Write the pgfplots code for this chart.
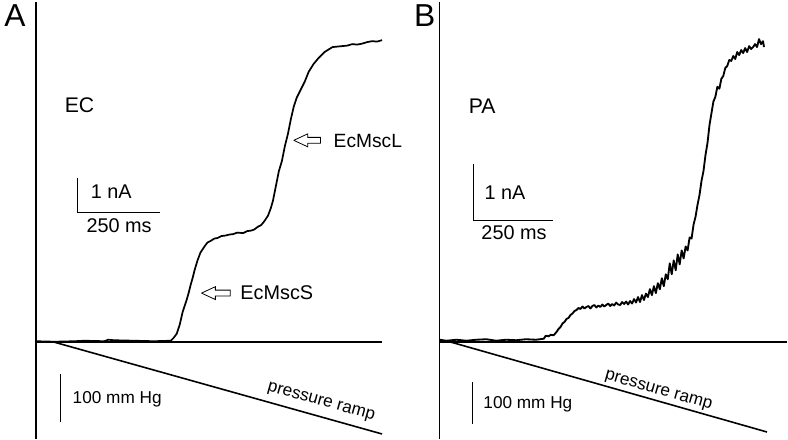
\documentclass[border=0pt]{standalone}
\usepackage{pgfplots}
\pgfplotsset{compat=1.18}
\usepackage{fontspec}
\setmainfont{Liberation Sans}
\newcommand{\fs}[1]{\fontsize{#1}{#1}\selectfont}
\begin{document}
\begin{tikzpicture}
\begin{axis}[
  scale only axis, width=591pt, height=330pt,
  xmin=0, xmax=788, ymin=0, ymax=440, y dir=reverse,
  axis lines=none, clip=false,
]
% frame lines
\addplot[black, line width=1.1pt] coordinates {(31,0) (31,440)};
\addplot[black, line width=1.1pt] coordinates {(438,0) (438,440)};
% baselines
\addplot[black, line width=1.8pt] coordinates {(31,342) (380,342)};
\addplot[black, line width=1.8pt] coordinates {(438,342) (788,342)};
% pressure ramps
\addplot[black, line width=1.2pt] coordinates {(48,342) (380,435)};
\addplot[black, line width=1.2pt] coordinates {(448,342) (768,433)};
% trace A
\addplot[black, line width=1.3pt, line join=round] coordinates {
(31,341.5) (50,342) (70,341.5) (80,341) (100,341.5) (104,340) (110,340.5) (130,341) (150,341.5) (167,341)
(170,338) (173,334) (176,325) (179,312) (181,306) (183,300) (185,293) (187,285) (189,278) (191,270) (194,260) (197,252)
(201,246) (204,242) (207,240.5) (211,238) (214,237.5) (218,235.5) (222,235) (226,234) (230,233.5) (234,232) (240,232.5) (244,230.5) (248,230) (251,229) (255,226) (258,224.5) (261,221)
(265,215) (268,207) (270,200) (273,185) (276,170) (279,160) (282,145) (285,133) (288,118)
(291,105) (294,96) (298,88) (302,80) (306,70) (311,62) (316,56) (322,50) (326,47.5) (330,45) (335,44.5) (340,44)
(345,43.5) (350,42) (355,42.5) (360,41.5) (365,40) (370,39) (375,39.5) (380,38)};
% trace B
\addplot[black, line width=1.4pt, line join=round] coordinates {
(438,340) (445,341) (455,340) (465,341) (475,340) (485,339.5) (495,341) (505,340) (515,340.5)
(525,339.5) (535,340) (543,339) (545,336) (548,336.5) (550,335) (553,335.5) (556,332) (558,329) (560,327) (562,323.5)
(564,322) (566,319) (568,318) (570,315) (572,313.5) (574,311) (576,310) (578,308)
(580,309) (582,306.5) (584,308.5) (586,307) (588,306) (590,308.5) (592,306) (594,305) (596,307.5) (598,305.5)
(600,307) (602,304.5) (604,306.5) (606,305) (608,303.5) (610,306) (612,304) (614,305.5) (616,302.5) (618,304.5)
(620,305) (622,302) (624,304) (626,301.5) (628,304.5) (630,301) (632,303.5) (634,299) (636,302.5) (638,297)
(640,302) (642,295) (644,300) (646,293.5) (648,297) (650,289) (652,295) (654,286) (656,293) (658,283)
(660,289) (662,278) (664,286) (666,274) (668,279) (670,263) (672,274) (674,260) (676,270) (678,254)
(680,264) (682,250) (684,258) (686,246) (688,250) (690,237) (692,238) (694,224) (696,216) (698,204)
(700,194) (702,180) (704,170) (706,154) (708,142) (710,124) (712,112) (714,100) (716,95) (718,85)
(720,87) (722,77) (724,74) (726,66) (728,64) (730,58) (732,59) (734,54) (736,57) (738,50)
(740,53) (742,48) (744,51) (746,46) (748,50) (750,44) (752,47) (754,45) (756,42) (758,45)
(760,37) (762,42) (764,39) (765,45)};
% scale bars A
\addplot[black, line width=1pt] coordinates {(73,177) (73,212) (156,212)};
\addplot[black, line width=1pt] coordinates {(56,375) (56,423)};
% scale bars B
\addplot[black, line width=1pt] coordinates {(472,163) (472,220) (552,220)};
\addplot[black, line width=1pt] coordinates {(471,383) (471,425)};
% arrows
\addplot[black, line width=0.6pt, fill=white] coordinates {
(291,139) (305,132.5) (305,136) (318,136) (318,142) (305,142) (305,145.5) (291,139)};
\addplot[black, line width=0.6pt, fill=white] coordinates {
(198,293) (212,286.5) (212,290) (227,290) (227,296) (212,296) (212,299.5) (198,293)};
% texts
\node[font=\fs{24}] at (axis cs:10,13) {A};
\node[font=\fs{24}] at (axis cs:423,13) {B};
\node[font=\fs{16}] at (axis cs:75,104) {EC};
\node[font=\fs{16}] at (axis cs:481,105) {PA};
\node[font=\fs{15}] at (axis cs:107,191) {1 nA};
\node[font=\fs{15}] at (axis cs:115,225) {250 ms};
\node[font=\fs{15}] at (axis cs:504,192) {1 nA};
\node[font=\fs{15}] at (axis cs:513,232) {250 ms};
\node[font=\fs{13}] at (axis cs:113,400) {100 mm Hg};
\node[font=\fs{13}] at (axis cs:527,405) {100 mm Hg};
\node[font=\fs{14.5}, anchor=west, inner sep=0pt] at (axis cs:331,140) {EcMscL};
\node[font=\fs{15}, anchor=west, inner sep=0pt] at (axis cs:237,293) {EcMscS};
\node[font=\fs{13}, rotate=-15.6, inner sep=0pt] at (axis cs:318.5,403.5) {pressure ramp};
\node[font=\fs{13}, rotate=-15.9, inner sep=0pt] at (axis cs:658.5,392) {pressure ramp};
\end{axis}
\end{tikzpicture}
\end{document}
